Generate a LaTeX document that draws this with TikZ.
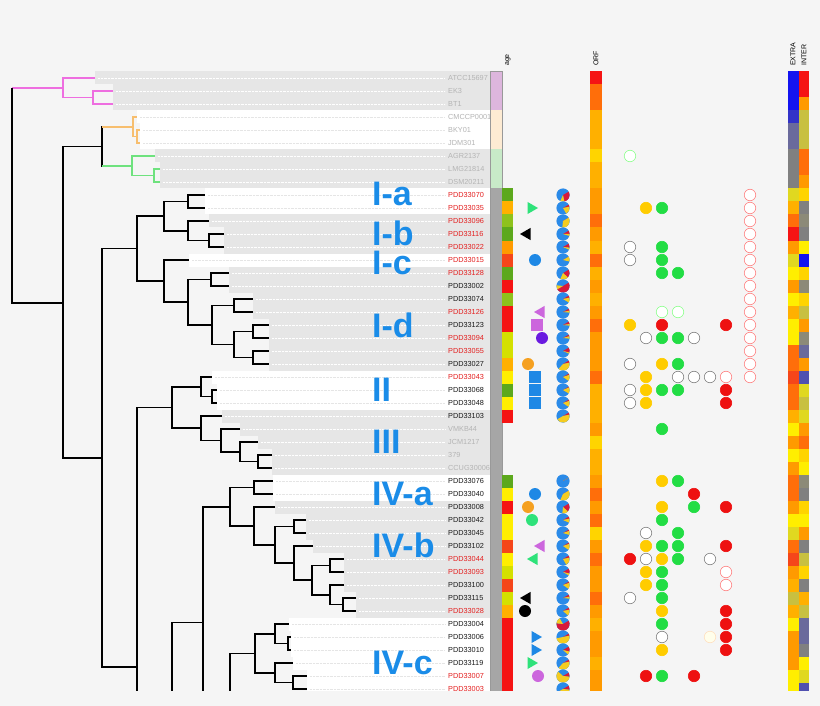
\documentclass[tikz,border=0pt]{standalone}
\usepackage{fontspec}
\setmainfont{Liberation Sans}
\usetikzlibrary{shapes.geometric}

\definecolor{bgc}{HTML}{F5F5F5}
\definecolor{bandg}{HTML}{E6E6E6}
\definecolor{bandw}{HTML}{FFFFFF}
\definecolor{pinkc}{HTML}{EE6EE0}
\definecolor{orngc}{HTML}{F7BE6E}
\definecolor{grnc}{HTML}{6EE27E}
\definecolor{clblue}{HTML}{1A8CE8}
\definecolor{refc}{HTML}{B4B4B4}
\definecolor{redc}{HTML}{E42020}
\definecolor{blkc}{HTML}{1A1A1A}
\definecolor{stripP}{HTML}{DDB6DD}
\definecolor{stripO}{HTML}{FDEBD3}
\definecolor{stripG}{HTML}{C8EAC8}
\definecolor{stripK}{HTML}{A6A6A6}
\definecolor{pieB}{HTML}{2A8AE8}
\definecolor{pieY}{HTML}{F5CC20}
\definecolor{pieR}{HTML}{D81A3A}
\definecolor{symG}{HTML}{2EE27A}
\definecolor{symB}{HTML}{1E88E5}
\definecolor{symP}{HTML}{CC66DD}
\definecolor{symV}{HTML}{6A1AE0}
\definecolor{symO}{HTML}{F5A020}
\definecolor{dY}{HTML}{FFCC00}
\definecolor{dG}{HTML}{22DD44}
\definecolor{dR}{HTML}{EE1111}
\definecolor{hR}{HTML}{F51414}
\definecolor{hD}{HTML}{FF6E0A}
\definecolor{hO}{HTML}{FF9A00}
\definecolor{hA}{HTML}{FFB000}
\definecolor{hY}{HTML}{FFD400}
\definecolor{hL}{HTML}{FFEE00}
\definecolor{hG}{HTML}{5CA81C}
\definecolor{hV}{HTML}{8EC21C}
\definecolor{hW}{HTML}{D4E000}
\definecolor{hE}{HTML}{F5461A}
\definecolor{hB}{HTML}{1414F0}
\definecolor{hb}{HTML}{3232C8}
\definecolor{hS}{HTML}{6A6A9C}
\definecolor{hT}{HTML}{5050B0}
\definecolor{hK}{HTML}{808080}
\definecolor{hQ}{HTML}{8C8A78}
\definecolor{hP}{HTML}{C8C040}
\definecolor{hM}{HTML}{E0D820}

\begin{document}
\begin{tikzpicture}[x=1pt,y=-1pt,
    branch/.style={line width=1.3pt},
    guideg/.style={densely dotted, line width=0.4pt, draw=white},
    guidew/.style={densely dotted, line width=0.4pt, draw=black!10},
    strain/.style={anchor=west, inner sep=0pt, font=\fontsize{7.3}{8}\selectfont},
    clade/.style={anchor=west, inner sep=0pt, text=clblue, font=\fontsize{34}{36}\selectfont\bfseries},
    colhead/.style={rotate=90, anchor=west, inner sep=0pt, font=\fontsize{7}{8}\selectfont},
    tri/.style={regular polygon, regular polygon sides=3, minimum size=14pt, inner sep=0pt},
    triR/.style={tri, shape border rotate=-90},
    triL/.style={tri, shape border rotate=90},
    sq/.style={rectangle, minimum size=11.5pt, inner sep=0pt},
    blob/.style={circle, minimum size=12pt, inner sep=0pt},
    dot/.style={circle, minimum size=11.5pt, inner sep=0pt, line width=0.6pt},
    dotY/.style={dot, fill=dY, draw=dY},
    dotG/.style={dot, fill=dG, draw=dG},
    dotR/.style={dot, fill=dR, draw=dR},
    ringK/.style={dot, fill=white, draw=black!50},
    ringP/.style={dot, fill=white, draw=red!50},
    ringG/.style={dot, fill=white, draw=green!45!white},
    ringY/.style={dot, fill=yellow!8, draw=orange!25}]
    \useasboundingbox (0,0) rectangle (820,706);
    \fill[bgc] (0,0) rectangle (820,706);

    \begin{scope}
    \clip (0,0) rectangle (820,690.5);
    \foreach \x/\b [count=\i from 0] in {95/g,113/g,113/g,137/w,140/w,140/w,155/g,160/g,160/g,205/w,205/w,209/g,224/g,224/g,189/w,229/g,229/g,253/g,253/g,269/g,269/g,269/g,269/g,212/w,217/w,217/w,222/g,240/g,258/g,272/g,272/g,273/w,273/w,275/g,306/g,306/g,313/g,344/g,344/g,344/g,356/g,356/g,289/w,291/w,291/w,293/w,307/w,307/w} {
        \coordinate (t\i) at (\x,{78+13*\i});
        \fill[band\b] (\x,{71.5+13*\i}) rectangle (490,{84.5+13*\i});
        \draw[guide\b] ([xshift=3pt]t\i) -- (445,{78+13*\i});
    }
    \foreach \s/\c [count=\i from 0] in {ATCC15697/refc,EK3/refc,BT1/refc,CMCCP0001/refc,BKY01/refc,JDM301/refc,AGR2137/refc,LMG21814/refc,DSM20211/refc,PDD33070/redc,PDD33035/redc,PDD33096/redc,PDD33116/redc,PDD33022/redc,PDD33015/redc,PDD33128/redc,PDD33002/blkc,PDD33074/blkc,PDD33126/redc,PDD33123/blkc,PDD33094/redc,PDD33055/redc,PDD33027/blkc,PDD33043/redc,PDD33068/blkc,PDD33048/blkc,PDD33103/blkc,VMKB44/refc,JCM1217/refc,379/refc,CCUG30006/refc,PDD33076/blkc,PDD33040/blkc,PDD33008/blkc,PDD33042/blkc,PDD33045/blkc,PDD33102/blkc,PDD33044/redc,PDD33093/redc,PDD33100/blkc,PDD33115/blkc,PDD33028/redc,PDD33004/blkc,PDD33006/blkc,PDD33010/blkc,PDD33119/blkc,PDD33007/redc,PDD33003/redc}
        \node[strain, text=\c] (n\i) at (448,{78+13*\i}) {\s};

    \coordinate (r) at (12,88);
    \coordinate (pk) at (63,88);
    \coordinate (pk2) at (93,97.5);
    \coordinate (a) at (63,303);
    \coordinate (b) at (102,146.5);
    \coordinate (or) at (133,127);
    \coordinate (or2) at (137,136.5);
    \coordinate (gn) at (132,166);
    \coordinate (gn2) at (154,175.5);
    \coordinate (c) at (102,458);
    \coordinate (i) at (137,248.5);
    \coordinate (iab) at (164,216);
    \coordinate (ia) at (188,201.5);
    \coordinate (ib) at (188,231);
    \coordinate (ib2) at (209,240.5);
    \coordinate (icd) at (164,281);
    \coordinate (id) at (188,302);
    \coordinate (id1) at (211,279.5);
    \coordinate (id2) at (212,325);
    \coordinate (id3) at (234,305.5);
    \coordinate (id4) at (234,344.5);
    \coordinate (id5) at (253,331.5);
    \coordinate (id6) at (253,357.5);
    \coordinate (q) at (137,667);
    \coordinate (two3) at (172,407.5);
    \coordinate (ii) at (201,387);
    \coordinate (ii2) at (212,396.5);
    \coordinate (iii) at (201,428);
    \coordinate (iii2) at (221,440.5);
    \coordinate (iii3) at (240,452);
    \coordinate (iii4) at (258,461.5);
    \coordinate (x) at (172,927);
    \coordinate (iv) at (203,622.5);
    \coordinate (ivab) at (230,507);
    \coordinate (iva) at (254,487.5);
    \coordinate (ivb) at (254,526);
    \coordinate (ivb2) at (275,545);
    \coordinate (ivb3) at (294,526.5);
    \coordinate (ivb4) at (294,563);
    \coordinate (ivb5) at (312,580);
    \coordinate (ivb6) at (330,565.5);
    \coordinate (ivb7) at (330,595);
    \coordinate (ivb8) at (343,604.5);
    \coordinate (ivc) at (230,738);
    \coordinate (ivc1) at (255,653.5);
    \coordinate (ivc2) at (275,634);
    \coordinate (ivc3) at (288,643.5);
    \coordinate (ivc4) at (275,673);
    \coordinate (ivc5) at (293,682.5);

    \foreach \p/\q in {r/pk,pk/t0,pk/pk2,pk2/t1,pk2/t2}
        \draw[branch,pinkc] (\p) |- (\q);
    \foreach \p/\q in {or/t3,or/or2,or2/t4,or2/t5}
        \draw[branch,orngc] (\p) |- (\q);
    \foreach \p/\q in {gn/t6,gn/gn2,gn2/t7,gn2/t8}
        \draw[branch,grnc] (\p) |- (\q);
    \foreach \p/\q in {r/a,a/b,a/c,b/or,b/gn,c/i,c/q,i/iab,i/icd,iab/ia,iab/ib,ia/t9,ia/t10,ib/t11,ib/ib2,ib2/t12,ib2/t13,icd/t14,icd/id,id/id1,id/id2,id1/t15,id1/t16,id2/id3,id2/id4,id3/t17,id3/t18,id4/id5,id4/id6,id5/t19,id5/t20,id6/t21,id6/t22,q/two3,q/x,two3/ii,two3/iii,ii/t23,ii/ii2,ii2/t24,ii2/t25,iii/t26,iii/iii2,iii2/t27,iii2/iii3,iii3/t28,iii3/iii4,iii4/t29,iii4/t30,x/iv,iv/ivab,iv/ivc,ivab/iva,ivab/ivb,iva/t31,iva/t32,ivb/t33,ivb/ivb2,ivb2/ivb3,ivb2/ivb4,ivb3/t34,ivb3/t35,ivb4/t36,ivb4/ivb5,ivb5/ivb6,ivb5/ivb7,ivb6/t37,ivb6/t38,ivb7/t39,ivb7/ivb8,ivb8/t40,ivb8/t41,ivc/ivc1,ivc1/ivc2,ivc1/ivc4,ivc2/t42,ivc2/ivc3,ivc3/t43,ivc3/t44,ivc4/t45,ivc4/ivc5,ivc5/t46,ivc5/t47}
        \draw[branch] (\p) |- (\q);
    \draw[branch,orngc] (b |- or) -- (or);
    \draw[branch,grnc] (b |- gn) -- (gn);

    \node[clade] (lIa) at (372,194) {I-a};
    \node[clade] (lIb) at (372,233) {I-b};
    \node[clade] (lIc) at (372,263) {I-c};
    \node[clade] (lId) at (372,325.5) {I-d};
    \node[clade] (lII) at (372,390) {II};
    \node[clade] (lIII) at (372,441.5) {III};
    \node[clade] (lIVa) at (372,494) {IV-a};
    \node[clade] (lIVb) at (372,545.5) {IV-b};
    \node[clade] (lIVc) at (372,662.5) {IV-c};

    \fill[stripP] (490,71.5) rectangle (502,110.5);
    \fill[stripO] (490,110.5) rectangle (502,149.5);
    \fill[stripG] (490,149.5) rectangle (502,188.5);
    \fill[stripK] (490,188.5) rectangle (502,700);
    \draw[black!40, line width=0.6pt] (490,71.5) rectangle (502,700);

    \foreach \c [count=\i from 9] in {hG,hA,hV,hG,hO,hE,hG,hR,hV,hR,hR,hW,hW,hA,hL,hG,hL,hR,none,none,none,none,hG,hL,hR,hL,hL,hE,hL,hW,hE,hW,hA,hR,hR,hR,hR,hR,hR}
        \fill[fill=\c] (502,{71.5+13*\i}) rectangle (513,{84.5+13*\i});

    \node[triR, fill=symG] (s10) at (531,208) {};
    \node[triL, fill=black] (s12) at (527,234) {};
    \node[blob, fill=symB] (s14) at (535,260) {};
    \node[triL, fill=symP] (s18) at (541,312) {};
    \node[sq, fill=symP] (s19) at (537,325) {};
    \node[blob, fill=symV] (s20) at (542,338) {};
    \node[blob, fill=symO] (s22) at (528,364) {};
    \foreach \i in {23,24,25}
        \node[sq, fill=symB] (s\i) at (535,{78+13*\i}) {};
    \node[blob, fill=symB] (s32) at (535,494) {};
    \node[blob, fill=symO] (s33) at (528,507) {};
    \node[blob, fill=symG] (s34) at (532,520) {};
    \node[triL, fill=symP] (s36) at (541,546) {};
    \node[triL, fill=symG] (s37) at (534,559) {};
    \node[triL, fill=black] (s40) at (527,598) {};
    \node[blob, fill=black] (s41) at (525,611) {};
    \node[triR, fill=symB] (s43) at (535,637) {};
    \node[triR, fill=symB] (s44) at (535,650) {};
    \node[triR, fill=symG] (s45) at (531,663) {};
    \node[blob, fill=symP] (s46) at (538,676) {};

    \foreach \i/\pr/\py in {9/0.30/0.10,10/0.05/0.20,11/0/0.35,12/0.08/0.05,13/0.10/0.05,14/0/0.12,15/0.20/0.20,16/0.50/0.10,17/0.05/0.12,18/0.05/0.05,19/0.06/0.04,20/0.04/0.06,21/0.12/0.03,22/0.05/0.40,23/0.03/0.15,24/0.02/0.15,25/0.03/0.15,26/0.05/0.45,31/0/0,32/0/0.40,33/0.20/0.15,34/0.05/0.10,35/0.03/0.10,36/0.03/0.15,37/0.05/0.20,38/0.12/0.05,39/0.03/0.15,40/0.05/0.05,41/0.05/0.15,42/0.60/0.15,43/0.05/0.50,44/0.12/0.08,45/0.05/0.40,46/0.10/0.60,47/0.10/0.40} {
        \fill[pieB] (563,{78+13*\i}) circle[radius=6.6];
        \fill[pieR] (563,{78+13*\i}) -- +(-30:6.6) arc[start angle=-30, delta angle={360*\pr}, radius=6.6] -- cycle;
        \fill[pieY] (563,{78+13*\i}) -- +({-30+360*\pr}:6.6) arc[start angle={-30+360*\pr}, delta angle={360*\py}, radius=6.6] -- cycle;
    }

    \foreach \c [count=\i from 0] in {hR,hD,hD,hA,hA,hA,hY,hA,hA,hO,hO,hD,hO,hA,hD,hA,hO,hA,hO,hD,hO,hO,hO,hD,hA,hA,hA,hO,hY,hA,hA,hO,hD,hO,hD,hY,hO,hD,hO,hO,hD,hO,hA,hO,hO,hA,hO,hO}
        \fill[\c] (590,{71.5+13*\i}) rectangle (602,{84.5+13*\i});

    \node[ringG] (d6) at (630,156) {};
    \foreach \r/\k/\s in {10/1/dotY,10/2/dotG,13/0/ringK,13/2/dotG,14/0/ringK,14/2/dotG,15/2/dotG,15/3/dotG,18/2/ringG,18/3/ringG,19/0/dotY,19/2/dotR,19/6/dotR,20/1/ringK,20/2/dotG,20/3/dotG,20/4/ringK,22/0/ringK,22/2/dotY,22/3/dotG,23/1/dotY,23/3/ringK,23/4/ringK,23/5/ringK,23/6/ringP,24/0/ringK,24/1/dotY,24/2/dotG,24/3/dotG,24/6/dotR,25/0/ringK,25/1/dotY,25/6/dotR,27/2/dotG,31/2/dotY,31/3/dotG,32/4/dotR,33/2/dotY,33/4/dotG,33/6/dotR,34/2/dotG,35/1/ringK,35/3/dotG,36/1/dotY,36/2/dotG,36/3/dotG,36/6/dotR,37/0/dotR,37/1/ringK,37/2/dotY,37/3/dotG,37/5/ringK,38/1/dotY,38/2/dotG,38/6/ringP,39/1/dotY,39/2/dotG,39/6/ringP,40/0/ringK,40/2/dotG,41/2/dotY,41/6/dotR,42/2/dotG,42/6/dotR,43/2/ringK,43/5/ringY,43/6/dotR,44/2/dotY,44/6/dotR,46/1/dotR,46/2/dotG,46/4/dotR}
        \node[\s] (d\r-\k) at ({630+16*\k},{78+13*\r}) {};
    \foreach \r in {9,...,23}
        \node[ringP] (e\r) at (750,{78+13*\r}) {};

    \foreach \e/\n [count=\i from 0] in {hB/hR,hB/hR,hB/hO,hb/hP,hS/hP,hS/hP,hK/hD,hK/hD,hK/hO,hM/hY,hA/hK,hD/hQ,hR/hK,hO/hL,hM/hB,hL/hY,hO/hQ,hL/hY,hA/hP,hL/hO,hL/hQ,hD/hS,hD/hO,hE/hT,hD/hM,hD/hP,hA/hM,hL/hO,hO/hD,hL/hY,hO/hL,hD/hQ,hD/hK,hO/hY,hL/hL,hM/hO,hD/hK,hE/hP,hO/hY,hA/hK,hP/hA,hA/hP,hL/hS,hO/hS,hO/hK,hO/hL,hL/hM,hL/hT} {
        \fill[\e] (788,{71.5+13*\i}) rectangle (798.5,{84.5+13*\i});
        \fill[\n] (798.5,{71.5+13*\i}) rectangle (809,{84.5+13*\i});
    }

    \node[colhead] (hAge) at (508,66) {age};
    \node[colhead] (hOrf) at (596,66) {ORF};
    \node[colhead] (hExtra) at (793,66) {EXTRA};
    \node[colhead] (hInter) at (804,66) {INTER};
    \end{scope}
\end{tikzpicture}
\end{document}
